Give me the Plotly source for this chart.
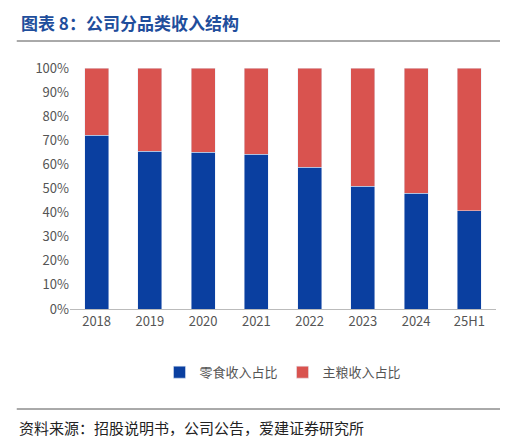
import plotly.graph_objects as go

years = ["2018", "2019", "2020", "2021", "2022", "2023", "2024", "25H1"]
snack = [72.2, 65.5, 65.1, 64.3, 58.8, 51.0, 48.1, 40.7]
staple = [round(100 - v, 1) for v in snack]

fig = go.Figure()
fig.add_bar(x=years, y=snack, name="零食收入占比", marker_color="#0A3FA0", width=0.45)
fig.add_bar(x=years, y=staple, name="主粮收入占比", marker_color="#D9534F", width=0.45)

fig.update_layout(
    barmode="stack", width=508, height=436, plot_bgcolor="white", paper_bgcolor="white",
    margin=dict(l=62, r=20, t=60, b=135),
    font=dict(family="Noto Sans CJK SC", size=13, color="#555"),
    yaxis=dict(range=[0, 100], dtick=10, ticksuffix="%", showgrid=False, showline=False),
    xaxis=dict(showline=True, linecolor="#bbb", ticks=""),
    legend=dict(orientation="h", traceorder="normal", x=0.5, xanchor="center", y=-0.2, yanchor="top", font=dict(size=13)),
    bargap=0.5,
)
fig.add_annotation(text="<b>图表 8：公司分品类收入结构</b>", xref="paper", yref="paper", x=-0.12, y=1.19,
                   xanchor="left", yanchor="middle", showarrow=False, font=dict(size=17, color="#1F4E9C"))
fig.add_shape(type="line", xref="paper", yref="paper", x0=-0.125, x1=1.04, y0=1.112, y1=1.112,
              line=dict(color="#555", width=1))
fig.add_shape(type="line", xref="paper", yref="paper", x0=-0.125, x1=1.04, y0=-0.415, y1=-0.415,
              line=dict(color="#555", width=1))
fig.add_annotation(text="资料来源：招股说明书，公司公告，爱建证券研究所", xref="paper", yref="paper", x=-0.125, y=-0.49,
                   xanchor="left", yanchor="middle", showarrow=False, font=dict(size=15, color="#222"))
fig.write_html("out.html")
